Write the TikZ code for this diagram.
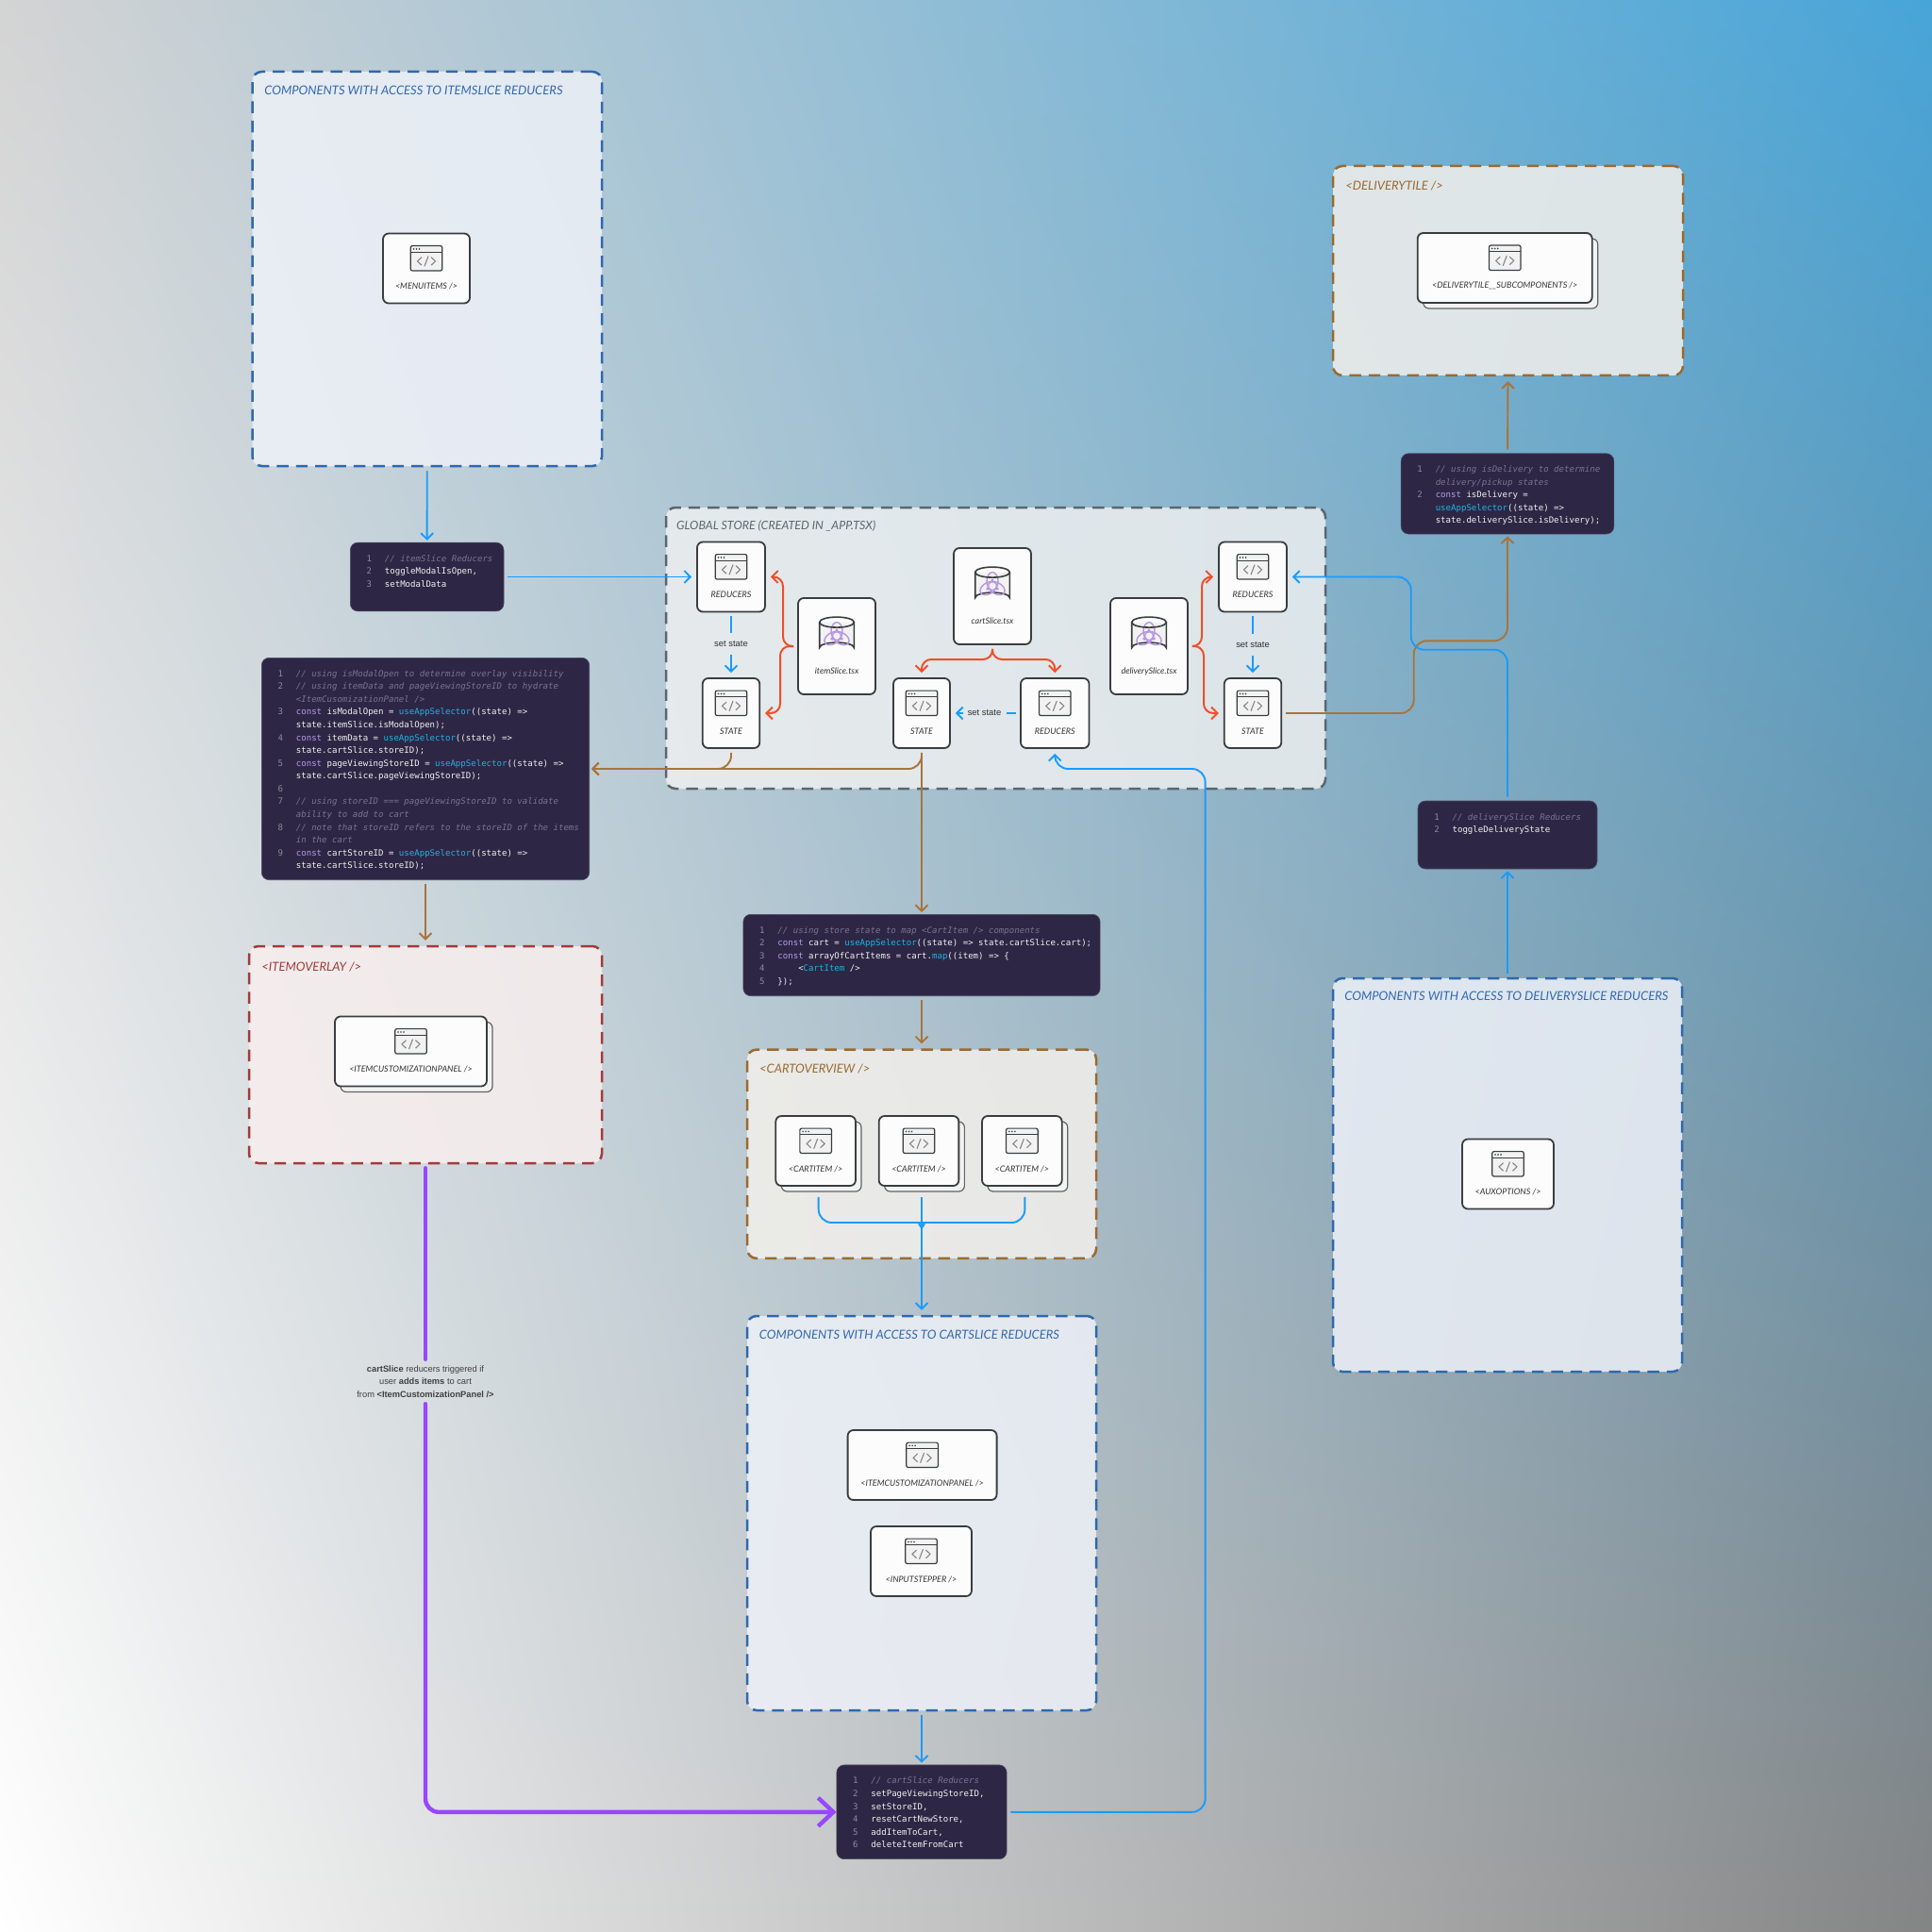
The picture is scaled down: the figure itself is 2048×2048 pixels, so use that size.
\documentclass[tikz,border=0pt]{standalone}
\usepackage{fontspec}
\setmainfont{Lato}
\newfontfamily\codefont{DejaVu Sans Mono}
\newfontfamily\uifont{Liberation Sans}
\usetikzlibrary{arrows.meta, shadows, calc}

\definecolor{blueline}{HTML}{1A9BFA}
\definecolor{brownline}{HTML}{A9743A}
\definecolor{forkline}{HTML}{EE4F2A}
\definecolor{purpleline}{HTML}{9747FF}
\definecolor{dashblue}{HTML}{2F68AE}
\definecolor{dashbrown}{HTML}{9A6A2F}
\definecolor{dashred}{HTML}{A33A3A}
\definecolor{dashgrey}{HTML}{5A666E}
\definecolor{tintblue}{HTML}{EEF1F8}
\definecolor{tintbrown}{HTML}{F3F0EC}
\definecolor{tintred}{HTML}{F8EEEE}
\definecolor{tintgrey}{HTML}{F2F2F2}
\definecolor{cardline}{HTML}{3A3D40}
\definecolor{cardfill}{HTML}{FBFCFB}
\definecolor{iconfill}{HTML}{F2F2F2}
\definecolor{icongrey}{HTML}{868686}
\definecolor{logopurple}{HTML}{B795E2}
\definecolor{codebg}{HTML}{2D2745}
\definecolor{codeplain}{HTML}{F1F1F1}
\definecolor{codenum}{HTML}{8C8A9C}
\definecolor{codecmt}{HTML}{79748F}
\definecolor{codekw}{HTML}{B59BEE}
\definecolor{codefn}{HTML}{1FB3E2}

\pgfdeclarefunctionalshading{cornermix}{\pgfpointorigin}{\pgfpoint{100bp}{100bp}}{}{
  25 sub 50 div exch 25 sub 50 div exch
  1 index -0.48 mul 1 index -0.17 mul add 2 index 2 index mul -0.068 mul add 1 add
  2 index -0.48 mul 2 index -0.17 mul add 3 index 3 index mul 0.297 mul add 1 add
  3 index -0.48 mul 3 index -0.17 mul add 4 index 4 index mul 0.497 mul add 1 add
  5 -2 roll pop pop
}

\newcommand{\kw}[1]{{\color{codekw}#1}}
\newcommand{\fn}[1]{{\color{codefn}#1}}
\newcommand{\cmnt}[1]{{\color{codecmt}\itshape #1}}
\newcommand{\codeln}[2]{\hbox{\kern7.5pt\makebox[5pt][c]{\color{codenum}#1}\kern5.8pt\rule{0pt}{3.6pt}#2}}
\newcommand{\codelines}[3]{\parbox[c][#2][t]{#1}{\hrule height0pt width#1\relax\vskip6.4pt #3}}

\begin{document}
\begin{tikzpicture}[
    x=0.5pt, y=-0.5pt,
    panel/.style={rounded corners=5pt, line width=1.25pt, dash pattern=on 6.2pt off 4pt, fill opacity=.85, inner sep=0pt},
    panelblue/.style={panel, draw=dashblue, fill=tintblue},
    panelbrown/.style={panel, draw=dashbrown, fill=tintbrown},
    panelred/.style={panel, draw=dashred, fill=tintred},
    panelgrey/.style={panel, draw=dashgrey, fill=tintgrey, fill opacity=.8},
    heading/.style={anchor=west, inner sep=0pt, font=\itshape\fontsize{6.52}{8}\selectfont},
    card/.style={draw=cardline, fill=cardfill, line width=.9pt, rounded corners=3pt, inner sep=0pt,
        text=black!80, font=\itshape\fontsize{4.5}{5}\selectfont, text height=29.5pt, text depth=7.5pt},
    stackcard/.style={card, general shadow={shadow xshift=3pt, shadow yshift=-3pt, fill=iconfill, draw=cardline!80, line width=.6pt}},
    slicebox/.style={card, text height=40pt, text depth=11pt, minimum width=41pt},
    codeblock/.style={fill=codebg, draw=codebg!85!white, line width=.3pt, rounded corners=4pt, inner sep=0pt, text=codeplain,
        font=\codefont\fontsize{4.53}{6.78}\selectfont},
    setlabel/.style={inner sep=0pt, minimum height=6.5pt, text=black!80, font=\uifont\fontsize{4.7}{6}\selectfont},
    arr/.style={-{Straight Barb[length=3.2pt, width=6.5pt]}, line width=.95pt, rounded corners=7pt, shorten >=2.5pt, shorten <=2pt},
    tocode/.style={shorten >=1pt},
    bluearr/.style={arr, draw=blueline},
    brownarr/.style={arr, draw=brownline},
    forkarr/.style={arr, draw=forkline, line width=1pt, rounded corners=5pt},
    plainblue/.style={bluearr, -},
    purpleseg/.style={draw=purpleline, line width=2.2pt, line cap=round, rounded corners=7pt},
    winicon/.pic={
        \draw[cardline, fill=iconfill, line width=.6pt, rounded corners=1pt] (-16.8,14) rectangle (16.8,40.4);
        \draw[cardline, line width=.6pt] (-16.8,20.6) -- (16.8,20.6);
        \foreach \dotx in {-13.5,-10.5,-7.5}
            \fill[cardline] (\dotx,17.3) circle (.45pt);
        \draw[icongrey, line width=.55pt] (-5,26) -- (-9.5,30.3) -- (-5,34.6);
        \draw[icongrey, line width=.55pt] (5,26) -- (9.5,30.3) -- (5,34.6);
        \draw[icongrey, line width=.55pt] (2,25) -- (-2,35.6);
    },
    slicedb/.pic={
        \draw[cardline, fill=iconfill, line width=.8pt] (-18.3,26.5) -- (-18.3,53.5) arc[start angle=180, end angle=360, x radius=18.3, y radius=5.5] -- (18.3,26.5);
        \foreach \turn in {0,120,240} {
            \draw[logopurple, line width=.7pt, shift={(0,41)}, rotate=\turn] (0,-5) circle[x radius=6, y radius=9.5];
            \fill[logopurple, shift={(0,41)}, rotate=\turn] (0,-6) circle (.9pt);
        }
        \draw[cardline, line width=.8pt] (0,26.5) circle[x radius=18.3, y radius=5.5];
    }
]
\path[shading=cornermix] (0,0) rectangle (2048,2048);
\useasboundingbox (0,0) rectangle (2048,2048);

\node[panelblue, minimum width=185.25pt, minimum height=209pt] (itemspanel) at (452.75,285) {};
\node[panelbrown, minimum width=185.5pt, minimum height=111pt] (tilepanel) at (1598.5,287) {};
\node[panelgrey, minimum width=349.5pt, minimum height=149pt] (storepanel) at (1055.5,687) {};
\node[panelred, minimum width=187pt, minimum height=115pt] (overlaypanel) at (451,1118) {};
\node[panelbrown, minimum width=185pt, minimum height=110.65pt] (overviewpanel) at (977,1223.3) {};
\node[panelblue, minimum width=185pt, minimum height=209pt] (cartpanel) at (977,1604) {};
\node[panelblue, minimum width=185pt, minimum height=208.5pt] (auxpanel) at (1598,1245.5) {};

\node[heading, text=dashblue] (itemshead) at (280,96) {COMPONENTS WITH ACCESS TO ITEMSLICE REDUCERS};
\node[heading, text=dashbrown] (tilehead) at (1426,196.7) {<DELIVERYTILE />};
\node[heading, text=dashgrey, font=\itshape\fontsize{6.24}{8}\selectfont] (storehead) at (716.8,558) {GLOBAL STORE (CREATED IN \_APP.TSX)};
\node[heading, text=dashred] (overlayhead) at (277,1025) {<ITEMOVERLAY />};
\node[heading, text=dashbrown] (overviewhead) at (804.7,1132.7) {<CARTOVERVIEW />};
\node[heading, text=dashblue] (carthead) at (804.5,1415) {COMPONENTS WITH ACCESS TO CARTSLICE REDUCERS};
\node[heading, text=dashblue] (auxhead) at (1425,1056) {COMPONENTS WITH ACCESS TO DELIVERYSLICE REDUCERS};

\node[card, minimum width=46pt] (menuitems) at (452,284.5) {<MENUITEMS />};
\node[stackcard, minimum width=92.5pt] (tilecard) at (1595.2,284) {<DELIVERYTILE\_\_SUBCOMPONENTS />};
\node[stackcard, minimum width=80.5pt] (overlaycard) at (435.5,1114.5) {<ITEMCUSTOMIZATIONPANEL />};
\node[stackcard, minimum width=42.35pt] (cartitema) at (864.65,1220) {<CARTITEM />};
\node[stackcard, minimum width=42.35pt] (cartitemb) at (974,1220) {<CARTITEM />};
\node[stackcard, minimum width=42.35pt] (cartitemc) at (1083.35,1220) {<CARTITEM />};
\node[card, minimum width=79pt] (panelcard) at (977.6,1553) {<ITEMCUSTOMIZATIONPANEL />};
\node[card, minimum width=53.5pt] (steppercard) at (976.5,1655) {<INPUTSTEPPER />};
\node[card, minimum width=48.5pt] (auxcard) at (1598.5,1244.5) {<AUXOPTIONS />};

\node[card, minimum width=36pt] (itemreducers) at (775,611.5) {REDUCERS};
\node[card, minimum width=30.25pt] (itemstate) at (775,756) {STATE};
\node[card, minimum width=30pt] (cartstate) at (977,756) {STATE};
\node[card, minimum width=36.25pt] (cartreducers) at (1118.25,756) {REDUCERS};
\node[card, minimum width=36pt] (delreducers) at (1328,611.5) {REDUCERS};
\node[card, minimum width=30.25pt] (delstate) at (1328,756) {STATE};
\node[slicebox] (itemslice) at (887,685) {itemSlice.tsx};
\node[slicebox] (cartslice) at (1052,632) {cartSlice.tsx};
\node[slicebox] (delslice) at (1218,685) {deliverySlice.tsx};

\foreach \cardname in {menuitems,tilecard,overlaycard,cartitema,cartitemb,cartitemc,panelcard,steppercard,auxcard,itemreducers,itemstate,cartstate,cartreducers,delreducers,delstate}
    \pic at (\cardname.north) {winicon};
\foreach \slicename in {itemslice,cartslice,delslice}
    \pic at (\slicename.north) {slicedb};

\node[setlabel] (itemset) at (775,682.7) {set state};
\node[setlabel] (cartset) at (1043.5,756) {set state};
\node[setlabel] (delset) at (1328,684) {set state};

\node[codeblock] (itemcode) at (452.65,611.5) {\codelines{81.35pt}{36.35pt}{
    \codeln{1}{\cmnt{// itemSlice Reducers}}
    \codeln{2}{toggleModalIsOpen,}
    \codeln{3}{setModalData}}};
\node[codeblock] (hydratecode) at (451,815) {\codelines{173.7pt}{117.7pt}{
    \codeln{1}{\cmnt{// using isModalOpen to determine overlay visibility}}
    \codeln{2}{\cmnt{// using itemData and pageViewingStoreID to hydrate}}
    \codeln{}{\cmnt{<ItemCusomizationPanel />}}
    \codeln{3}{\kw{const} isModalOpen = \fn{useAppSelector}((state) =>}
    \codeln{}{state.itemSlice.isModalOpen);}
    \codeln{4}{\kw{const} itemData = \fn{useAppSelector}((state) =>}
    \codeln{}{state.cartSlice.storeID);}
    \codeln{5}{\kw{const} pageViewingStoreID = \fn{useAppSelector}((state) =>}
    \codeln{}{state.cartSlice.pageViewingStoreID);}
    \codeln{6}{}
    \codeln{7}{\cmnt{// using storeID === pageViewingStoreID to validate}}
    \codeln{}{\cmnt{ability to add to cart}}
    \codeln{8}{\cmnt{// note that storeID refers to the storeID of the items}}
    \codeln{}{\cmnt{in the cart}}
    \codeln{9}{\kw{const} cartStoreID = \fn{useAppSelector}((state) =>}
    \codeln{}{state.cartSlice.storeID);}}};
\node[codeblock] (mapcode) at (977,1012.5) {\codelines{189.15pt}{43.2pt}{
    \codeln{1}{\cmnt{// using store state to map <CartItem /> components}}
    \codeln{2}{\kw{const} cart = \fn{useAppSelector}((state) => state.cartSlice.cart);}
    \codeln{3}{\kw{const} arrayOfCartItems = cart.\fn{map}((item) => \{}
    \codeln{4}{\hphantom{0000}<\fn{CartItem} />}
    \codeln{5}{\});}}};
\node[codeblock] (tilecode) at (1598,523.4) {\codelines{112.85pt}{42.65pt}{
    \codeln{1}{\cmnt{// using isDelivery to determine}}
    \codeln{}{\cmnt{delivery/pickup states}}
    \codeln{2}{\kw{const} isDelivery =}
    \codeln{}{\fn{useAppSelector}((state) =>}
    \codeln{}{state.deliverySlice.isDelivery);}}};
\node[codeblock] (delcode) at (1598,885) {\codelines{95pt}{36pt}{
    \codeln{1}{\cmnt{// deliverySlice Reducers}}
    \codeln{2}{toggleDeliveryState}}};
\node[codeblock] (cartcode) at (977,1920.8) {\codelines{90.15pt}{49.85pt}{
    \codeln{1}{\cmnt{// cartSlice Reducers}}
    \codeln{2}{setPageViewingStoreID,}
    \codeln{3}{setStoreID,}
    \codeln{4}{resetCartNewStore,}
    \codeln{5}{addItemToCart,}
    \codeln{6}{deleteItemFromCart}}};

\node[inner sep=0pt, minimum height=23.3pt, align=center, text=black!75, font=\uifont\fontsize{4.65}{6.78}\selectfont] (triggerlabel) at (451,1464.5)
    {\textbf{cartSlice} reducers triggered if\\user \textbf{adds items} to cart\\from \textbf{<ItemCustomizationPanel />}};

\draw[bluearr, tocode] (itemspanel.south) -- (itemcode.north);
\draw[bluearr] (itemcode.east) -- (itemreducers.west);
\draw[plainblue] (itemreducers.south) -- (itemset.north);
\draw[bluearr] (itemset.south) -- (itemstate.north);
\draw[plainblue] (cartreducers.west) -- (cartset.east);
\draw[bluearr] (cartset.west) -- (cartstate.east);
\draw[plainblue] (delreducers.south) -- (delset.north);
\draw[bluearr] (delset.south) -- (delstate.north);

\draw[forkarr] (itemslice.west) -- (830,685) -- (830,611.5) -- (itemreducers.east);
\draw[forkarr] (itemslice.west) -- (827,685) -- (827,756) -- (itemstate.east);
\draw[forkarr] (cartslice.south) -- (1052,699) -- (977,699) -- (cartstate.north);
\draw[forkarr] (cartslice.south) -- (1052,699) -- (1118.25,699) -- (cartreducers.north);
\draw[forkarr] (delslice.east) -- (1274,685) -- (1274,611.5) -- (delreducers.west);
\draw[forkarr] (delslice.east) -- (1276,685) -- (1276,756) -- (delstate.west);

\draw[brownarr, tocode] (itemstate.south) |- (hydratecode.east);
\draw[brownarr, tocode] (cartstate.south) |- (hydratecode.east);
\draw[brownarr, tocode] (cartstate.south) -- (mapcode.north);
\draw[brownarr] (hydratecode.south) -- (overlaypanel.north);
\draw[brownarr] (mapcode.south) -- (overviewpanel.north);
\draw[brownarr, tocode] (delstate.east) -- (1498.7,756) -- (1498.7,679.3) -- (1598,679.3) -- (tilecode.south);
\draw[brownarr] (tilecode.north) -- (tilepanel.south);

\draw[plainblue, shorten <=5.5pt] ([xshift=1.5pt]cartitema.south) -- (867.7,1296) -- (963,1296) .. controls (971,1296) and (976,1299) .. (977,1306);
\draw[plainblue, shorten <=5.5pt] ([xshift=1.5pt]cartitemc.south) -- (1086.35,1296) -- (991,1296) .. controls (983,1296) and (978,1299) .. (977,1306);
\draw[bluearr, shorten <=5.5pt] ([xshift=1.5pt]cartitemb.south) -- (cartpanel.north);
\draw[bluearr, tocode] (cartpanel.south) -- (cartcode.north);
\draw[bluearr] (cartcode.east) -- (1277.6,1920.8) -- (1277.6,815) -- (1118.25,815) -- (cartreducers.south);
\draw[bluearr, tocode] (auxpanel.north) -- (delcode.south);
\draw[bluearr] (delcode.north) -- (1598,688.7) -- (1495.7,688.7) -- (1495.7,611.5) -- (delreducers.east);

\draw[purpleseg, shorten <=2pt] (overlaypanel.south) -- (triggerlabel.north);
\draw[purpleseg, -{Straight Barb[length=8pt, width=15pt]}] (triggerlabel.south) |- (cartcode.west);
\end{tikzpicture}
\end{document}
